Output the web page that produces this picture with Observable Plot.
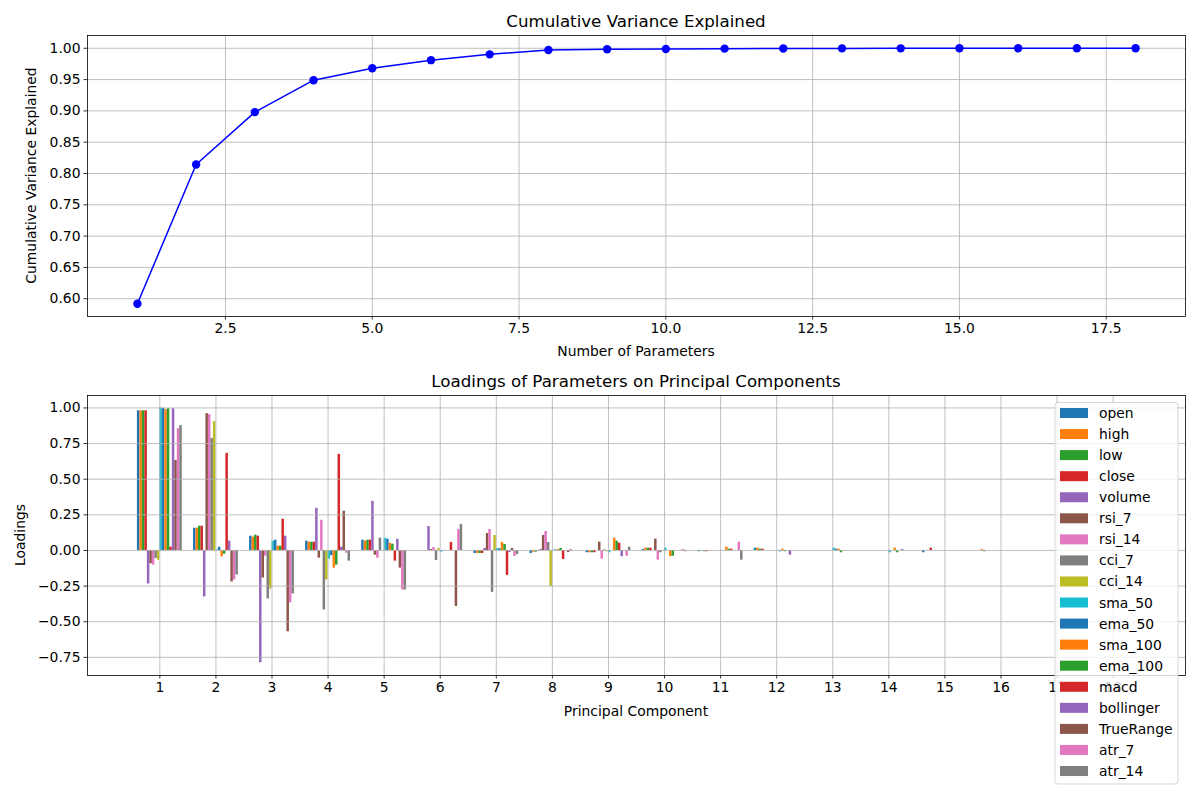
<!DOCTYPE html>
<html>
<head>
<meta charset="utf-8">
<script src="https://cdn.jsdelivr.net/npm/d3@7"></script>
<script src="https://cdn.jsdelivr.net/npm/@observablehq/plot@0.6"></script>
<style>
  html, body { margin: 0; padding: 0; background: #ffffff; }
  #fig { position: relative; width: 1200px; height: 800px; overflow: hidden; background: #ffffff; font-family: "DejaVu Sans", sans-serif; }
  #fig > svg, #fig > div { position: absolute; left: 0; }
  #overlay { position: absolute; left: 0; top: 0; pointer-events: none; }
</style>
</head>
<body>
<div id="fig"></div>
<script>
// ---------- data ----------
const nParameters = [1, 2, 3, 4, 5, 6, 7, 8, 9, 10, 11, 12, 13, 14, 15, 16, 17, 18];
const cumVariance = [0.592, 0.8144, 0.898, 0.949, 0.968, 0.981, 0.9903, 0.9972, 0.9984, 0.9989,
                     0.9994, 0.9997, 0.9998, 0.9999, 1.0, 1.0, 1.0, 1.0];

const params = ["open", "high", "low", "close", "volume", "rsi_7", "rsi_14", "cci_7", "cci_14",
                "sma_50", "ema_50", "sma_100", "ema_100", "macd", "bollinger", "TrueRange", "atr_7", "atr_14"];
const paramColors = ["#1f77b4", "#ff7f0e", "#2ca02c", "#d62728", "#9467bd", "#8c564b", "#e377c2", "#7f7f7f", "#bcbd22",
                     "#17becf", "#1f77b4", "#ff7f0e", "#2ca02c", "#d62728", "#9467bd", "#8c564b", "#e377c2", "#7f7f7f"];
const components = [1, 2, 3, 4, 5, 6, 7, 8, 9, 10, 11, 12, 13, 14, 15, 16, 17, 18];

// loadings of each parameter (in params order) on each principal component
const pc1  = [0.980, 0.980, 0.980, 0.980, -0.235, -0.093, -0.103, -0.056, -0.068, 0.998, 0.998, 0.988, 0.995, 0.023, 0.995, 0.632, 0.855, 0.876];
const pc2  = [0.156, 0.156, 0.170, 0.170, -0.326, 0.960, 0.953, 0.786, 0.904, 0.004, 0.023, -0.044, -0.026, 0.681, 0.065, -0.221, -0.207, -0.172];
const pc3  = [0.100, 0.093, 0.107, 0.100, -0.788, -0.193, -0.040, -0.340, -0.270, 0.065, 0.072, 0.030, 0.030, 0.219, 0.100, -0.571, -0.368, -0.305];
const pc4  = [0.065, 0.058, 0.058, 0.058, 0.296, -0.054, 0.212, -0.417, -0.207, -0.061, -0.037, -0.124, -0.103, 0.674, 0.023, 0.275, -0.019, -0.075];
const pc5  = [0.072, 0.065, 0.072, 0.072, 0.345, -0.033, -0.054, 0.086, 0.000, 0.086, 0.079, 0.051, 0.044, -0.075, 0.079, -0.124, -0.277, -0.277];
const pc6  = [0.000, 0.000, 0.000, 0.000, 0.168, 0.007, 0.021, -0.070, 0.014, -0.012, -0.004, 0.000, 0.000, 0.056, 0.000, -0.393, 0.147, 0.182];
const pc7  = [-0.021, -0.021, -0.021, -0.021, 0.014, 0.119, 0.147, -0.294, 0.105, 0.014, 0.012, 0.056, 0.042, -0.175, -0.014, 0.014, -0.042, -0.028];
const pc8  = [-0.021, -0.012, -0.012, -0.005, 0.007, 0.105, 0.133, 0.056, -0.252, 0.003, 0.003, 0.007, 0.014, -0.063, 0.000, -0.014, 0.007, 0.000];
const pc9  = [-0.016, -0.016, -0.016, -0.016, 0.000, 0.058, -0.061, 0.004, -0.009, -0.016, 0.000, 0.086, 0.065, 0.051, -0.044, 0.000, -0.040, 0.023];
const pc10 = [0.007, 0.016, 0.016, 0.016, 0.000, 0.079, -0.068, -0.016, -0.005, 0.016, 0.000, -0.044, -0.040, 0.000, 0.000, 0.000, 0.007, -0.009];
const pc11 = [-0.009, 0.000, -0.009, -0.009, 0.000, 0.000, 0.000, 0.000, 0.000, 0.000, 0.000, 0.023, 0.009, 0.009, 0.000, 0.000, 0.058, -0.068];
const pc12 = [0.016, 0.016, 0.009, 0.009, 0.000, 0.000, 0.000, 0.000, 0.000, 0.000, -0.009, 0.009, -0.009, 0.000, -0.033, 0.000, 0.000, 0.000];
const pc13 = [0.000, 0.000, 0.000, 0.000, 0.000, 0.000, 0.000, 0.000, 0.000, 0.016, 0.009, 0.009, -0.016, 0.000, 0.000, 0.000, 0.000, 0.000];
const pc14 = [0.000, 0.000, 0.000, 0.000, 0.000, 0.000, 0.000, 0.000, 0.000, -0.016, 0.000, 0.016, -0.016, 0.000, 0.007, 0.000, 0.000, 0.000];
const pc15 = [-0.016, 0.000, 0.000, 0.016, 0.000, 0.000, 0.000, 0.000, 0.000, 0.000, 0.000, 0.000, 0.000, 0.000, 0.000, 0.000, 0.000, 0.000];
const pc16 = [0.000, 0.007, -0.009, 0.000, 0.000, 0.000, 0.000, 0.000, 0.000, 0.000, 0.000, 0.000, 0.000, 0.000, 0.000, 0.000, 0.000, 0.000];
const pc17 = [0.000, 0.000, 0.000, 0.000, 0.000, 0.000, 0.000, 0.000, 0.000, 0.000, 0.000, 0.000, 0.000, 0.000, 0.000, 0.000, 0.000, 0.000];
const pc18 = [0.000, 0.000, 0.000, 0.000, 0.000, 0.000, 0.000, 0.000, 0.000, 0.000, 0.000, 0.000, 0.000, 0.000, 0.000, 0.000, 0.000, 0.000];
const loadings = [pc1, pc2, pc3, pc4, pc5, pc6, pc7, pc8, pc9, pc10, pc11, pc12, pc13, pc14, pc15, pc16, pc17, pc18];

// ---------- helpers ----------
const FONT = "DejaVu Sans";
const GRID = "#b0b0b0";
function pad(ext, frac = 0.05) { const s = ext[1] - ext[0]; return [ext[0] - s * frac, ext[1] + s * frac]; }

const fig = document.getElementById("fig");
const W = 1200;

// ---------- top chart: cumulative variance ----------
const cumData = nParameters.map((n, i) => ({ n, v: cumVariance[i] }));
const topXDom = pad(d3.extent(nParameters));
const topYDom = pad(d3.extent(cumVariance));
const topXTicks = d3.range(1, 8).map(k => k * 2.5);
const topYTicks = d3.range(12, 21).map(k => k * 0.05);

const topH = 370;
const chartTop = Plot.plot({
  width: W, height: topH,
  marginLeft: 87, marginRight: 15, marginTop: 35, marginBottom: topH - 316,
  style: { fontFamily: FONT, fontSize: "13.9px", color: "#000", background: "transparent", overflow: "visible" },
  x: { type: "linear", domain: topXDom },
  y: { type: "linear", domain: topYDom },
  marks: [
    Plot.gridX({ ticks: topXTicks, stroke: GRID, strokeOpacity: 1, strokeWidth: 0.8 }),
    Plot.gridY({ ticks: topYTicks, stroke: GRID, strokeOpacity: 1, strokeWidth: 0.8 }),
    Plot.line(cumData, { x: "n", y: "v", stroke: "#0000ff", strokeWidth: 1.5 }),
    Plot.dot(cumData, { x: "n", y: "v", r: 4.2, fill: "#0000ff", stroke: "none" }),
    Plot.frame({ stroke: "#000", strokeWidth: 0.8 }),
    Plot.axisX({ ticks: topXTicks, tickFormat: d3.format(".1f"), tickSize: 3.5, tickPadding: 3.5, label: null, strokeWidth: 0.8 }),
    Plot.axisY({ ticks: topYTicks, tickFormat: d3.format(".2f"), tickSize: 3.5, tickPadding: 3.5, label: null, strokeWidth: 0.8 })
  ]
});
chartTop.style.top = "0px";
fig.appendChild(chartTop);

// ---------- bottom chart: loadings ----------
const barW = 0.8 / params.length;
const bars = loadings.flatMap((vals, i) => vals.map((v, j) => ({ pc: components[i], j, param: params[j], value: v })));
const botXDom = pad([components[0] - 0.4, components[components.length - 1] + 0.4]);
const botYDom = pad(d3.extent(bars, d => d.value));
const botYTicks = d3.range(-3, 5).map(k => k * 0.25);

const botTop = 370, botH = 800 - botTop;
const chartBottom = Plot.plot({
  width: W, height: botH,
  marginLeft: 87, marginRight: 15, marginTop: 395 - botTop, marginBottom: 800 - 675,
  style: { fontFamily: FONT, fontSize: "13.9px", color: "#000", background: "transparent", overflow: "visible" },
  x: { type: "linear", domain: botXDom },
  y: { type: "linear", domain: botYDom },
  color: { domain: params, range: paramColors },
  marks: [
    Plot.rect(bars, {
      x1: d => d.pc - 0.4 + d.j * barW,
      x2: d => d.pc - 0.4 + (d.j + 1) * barW,
      y1: d => 0, y2: "value", fill: "param", inset: 0
    }),
    Plot.gridX({ ticks: components, stroke: GRID, strokeOpacity: 1, strokeWidth: 0.8 }),
    Plot.gridY({ ticks: botYTicks, stroke: GRID, strokeOpacity: 1, strokeWidth: 0.8 }),
    Plot.frame({ stroke: "#000", strokeWidth: 0.8 }),
    Plot.axisX({ ticks: components, tickFormat: d => String(d), tickSize: 3.5, tickPadding: 3.5, label: null, strokeWidth: 0.8 }),
    Plot.axisY({ ticks: botYTicks, tickFormat: d3.format(".2f"), tickSize: 3.5, tickPadding: 3.5, label: null, strokeWidth: 0.8 })
  ]
});
chartBottom.style.top = botTop + "px";
fig.appendChild(chartBottom);

// ---------- titles, labels, legend ----------
const ov = d3.select(fig).append("svg").attr("id", "overlay")
  .attr("width", W).attr("height", 800)
  .style("font-family", FONT);

function txt(x, y, s, size, anchor = "middle", rotate = false) {
  const t = ov.append("text").attr("x", x).attr("y", y).attr("text-anchor", anchor)
    .attr("font-size", size).attr("fill", "#000").text(s);
  if (rotate) t.attr("transform", `rotate(-90,${x},${y})`);
  return t;
}
const axCx = 87 + (1185 - 87) / 2;
txt(axCx, 27, "Cumulative Variance Explained", "16.67px");
txt(axCx, 356, "Number of Parameters", "13.9px");
txt(36, (35 + 316) / 2, "Cumulative Variance Explained", "13.9px", "middle", true);

txt(axCx, 387, "Loadings of Parameters on Principal Components", "16.67px");
txt(axCx, 716, "Principal Component", "13.9px");
txt(25, (395 + 675) / 2, "Loadings", "13.9px", "middle", true);

// legend
const lg = ov.append("g");
lg.append("rect").attr("x", 1055).attr("y", 402.5).attr("width", 123).attr("height", 381.5)
  .attr("rx", 3).attr("fill", "#ffffff").attr("fill-opacity", 0.8)
  .attr("stroke", "#cccccc").attr("stroke-opacity", 0.8).attr("stroke-width", 1);
params.forEach((p, i) => {
  const cy = 413 + i * 21.06;
  lg.append("rect").attr("x", 1060).attr("y", cy - 5).attr("width", 28).attr("height", 10).attr("fill", paramColors[i]);
  lg.append("text").attr("x", 1099).attr("y", cy + 5).attr("font-size", "13.9px").attr("fill", "#000").text(p);
});
</script>
</body>
</html>
